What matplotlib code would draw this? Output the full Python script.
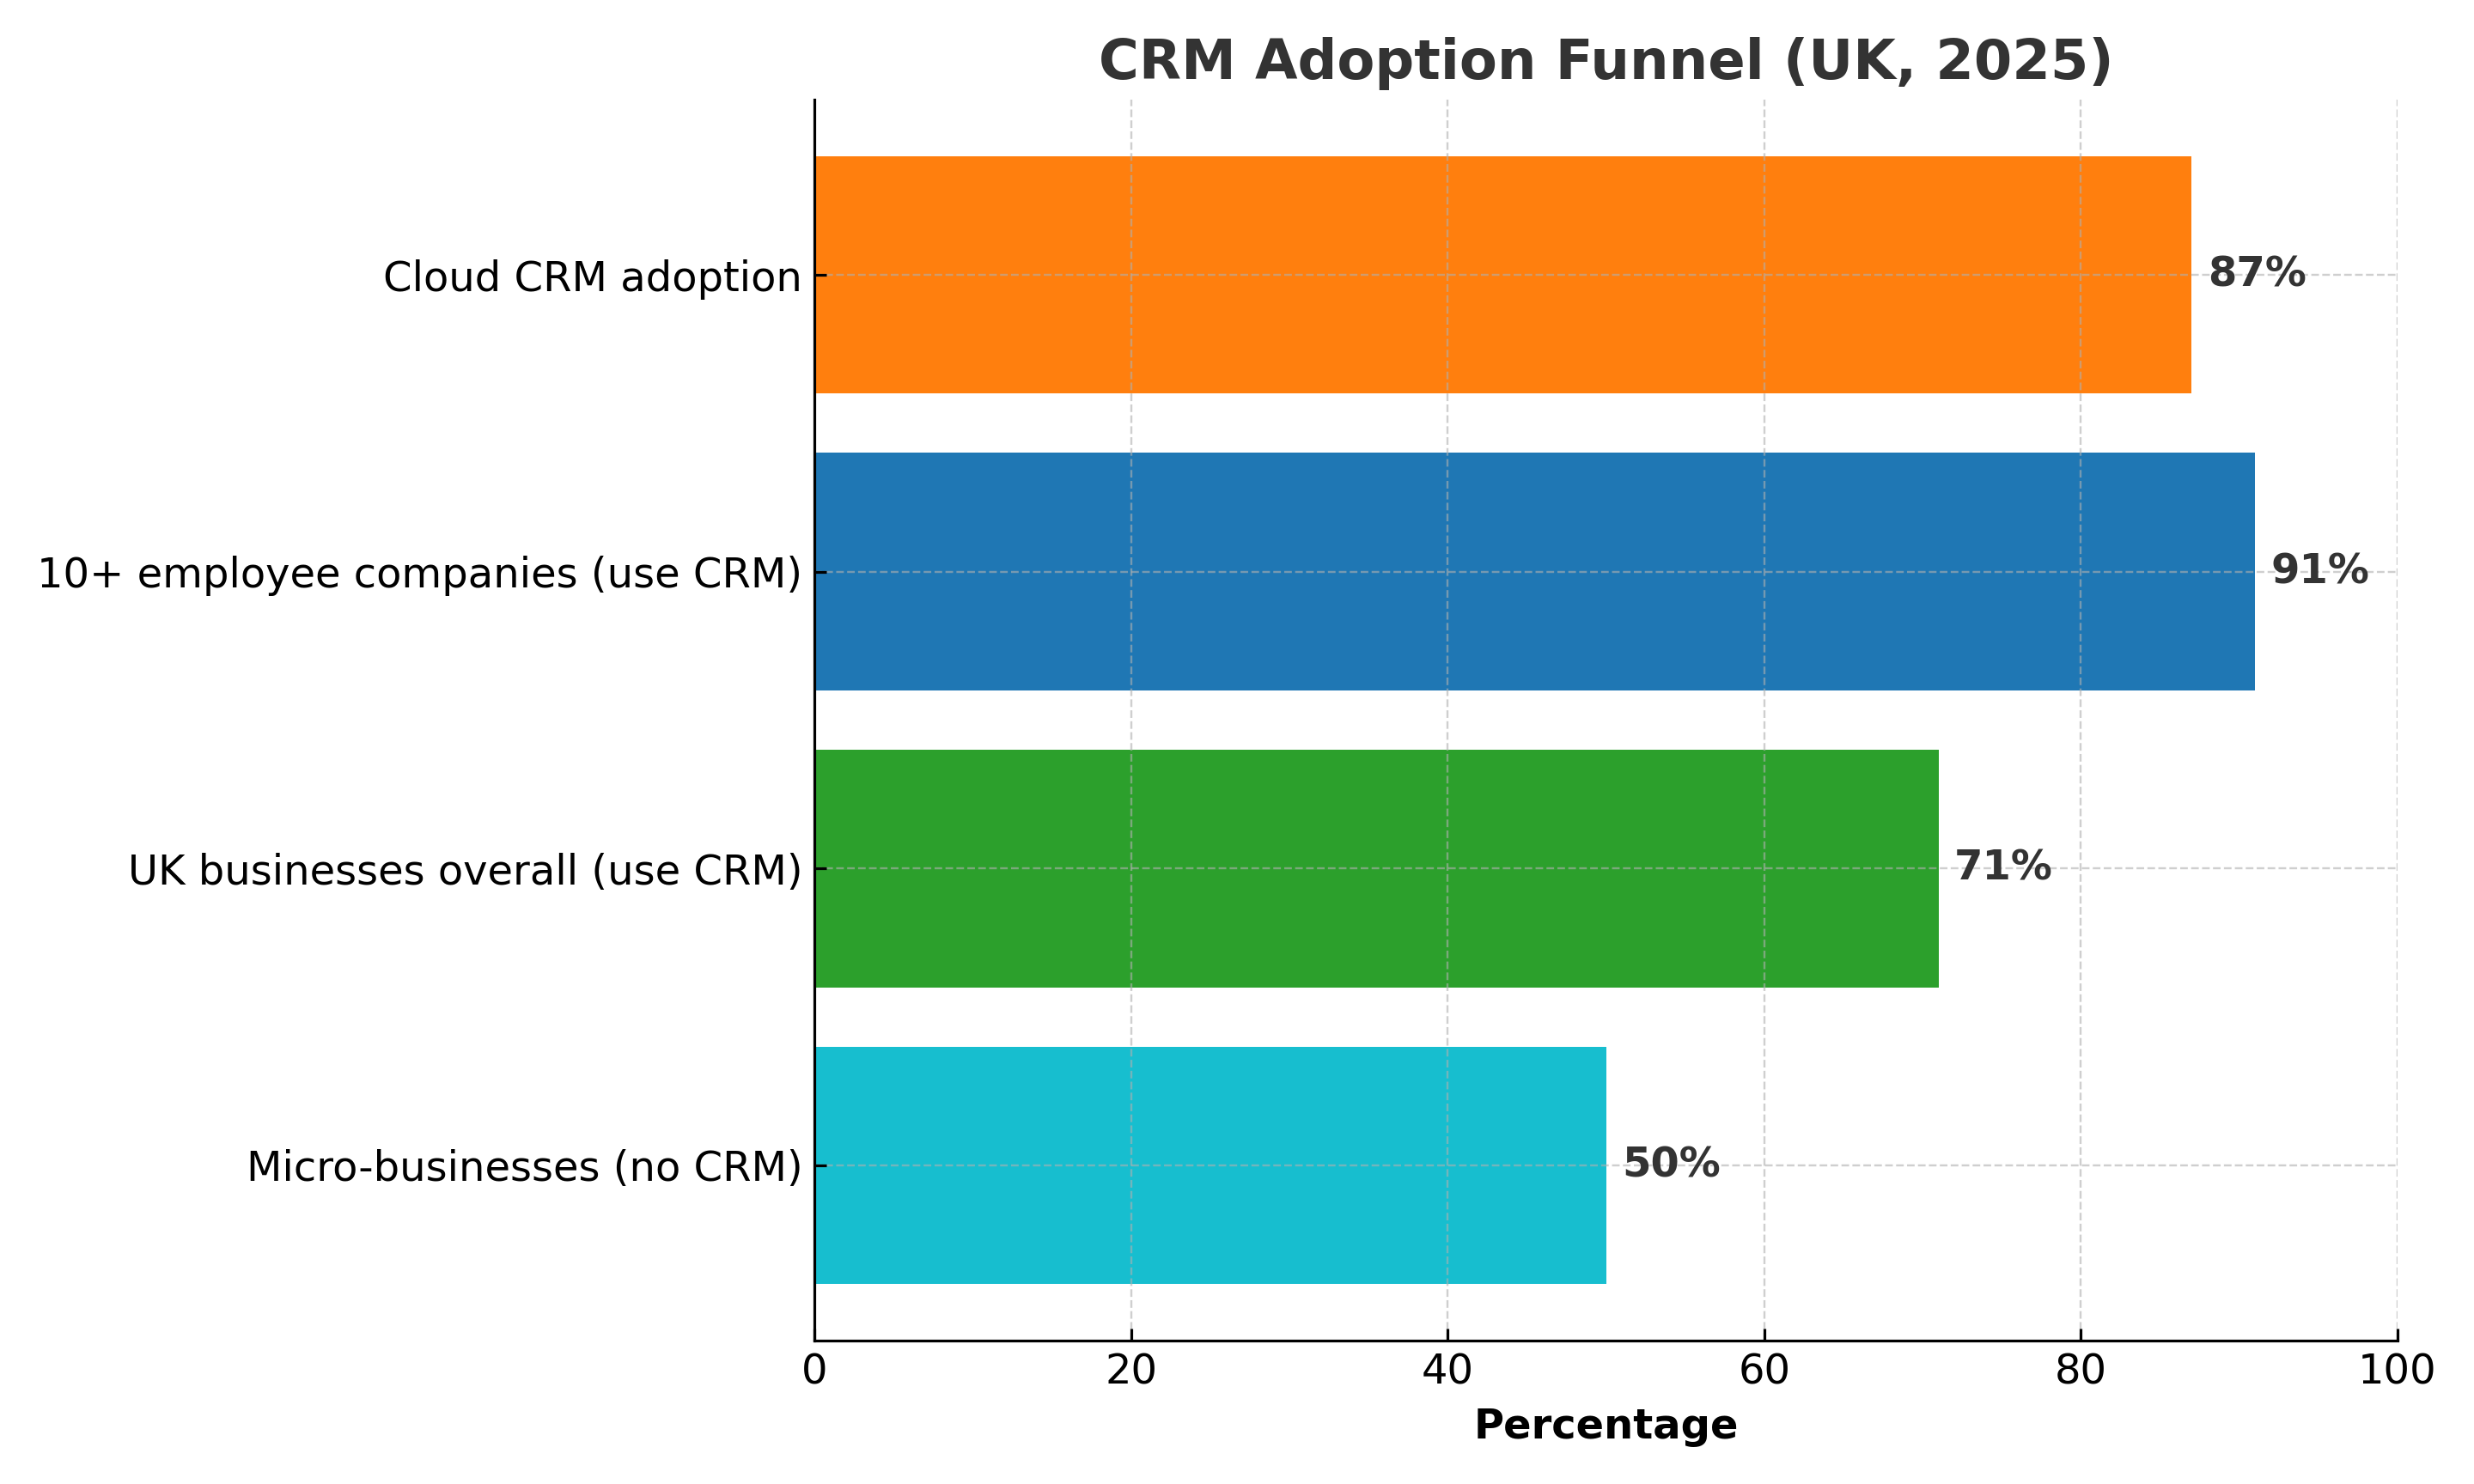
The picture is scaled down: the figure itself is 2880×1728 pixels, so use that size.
import matplotlib
matplotlib.use("Agg")
import matplotlib.pyplot as plt

categories = ["Micro-businesses (no CRM)", "UK businesses overall (use CRM)",
              "10+ employee companies (use CRM)", "Cloud CRM adoption"]
values = [50, 71, 91, 87]
colors = ["#17becf", "#2ca02c", "#1f77b4", "#ff7f0e"]

fig, ax = plt.subplots(figsize=(10, 6), dpi=288)
bars = ax.barh(categories, values, color=colors, height=0.8)
for b, v in zip(bars, values):
    ax.text(v + 1, b.get_y() + b.get_height() / 2, f"{v}%", va="center", ha="left",
            fontsize=12, fontweight="bold", color="#333333")
ax.set_xlim(0, 100)
ax.set_xlabel("Percentage", fontsize=12, fontweight="bold")
ax.set_title("CRM Adoption Funnel (UK, 2025)", fontsize=16, fontweight="bold", color="#333333")
ax.tick_params(axis="both", labelsize=12, direction="in")
ax.grid(True, linestyle="--", alpha=0.6, linewidth=0.6)
ax.spines["top"].set_visible(False)
ax.spines["right"].set_visible(False)
fig.tight_layout()
fig.savefig("out.png", dpi=288)
